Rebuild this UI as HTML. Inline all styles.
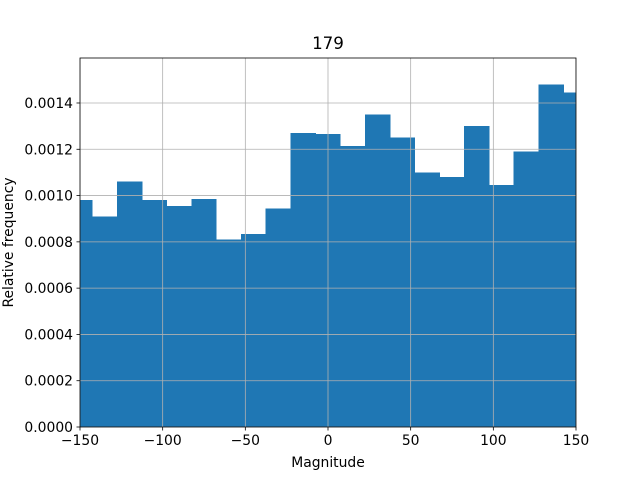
<!DOCTYPE html>
<html><head><meta charset="utf-8"><style>body{margin:0;background:#fff}svg{font-family:"DejaVu Sans","Liberation Sans",sans-serif}</style></head>
<body>
<svg id="c" width="640" height="480" viewBox="0 0 640 480">
<rect width="640" height="480" fill="#fff"/>
<defs><clipPath id="clip"><rect x="80" y="58" width="496" height="369"/></clipPath></defs>
<g id="bars" clip-path="url(#clip)" shape-rendering="crispEdges"></g>
<g id="grid" clip-path="url(#clip)"></g>
<rect x="80" y="58" width="496" height="369" fill="none" stroke="#000" stroke-width="0.8"/>
<g id="xt"></g><g id="yt"></g>
<text x="328" y="49" font-size="16.7" text-anchor="middle">179</text>
<text x="328" y="467" font-size="13.9" text-anchor="middle">Magnitude</text>
<text transform="translate(13,242.5) rotate(-90)" font-size="13.9" text-anchor="middle">Relative frequency</text>
</svg>
<script>
const binStart = -157.7;
const binWidth = 15;
const freqs = [0.00098,0.00091,0.00106,0.00098,0.000955,0.000985,0.00081,0.000835,0.000945,0.00127,0.001265,0.001215,0.00135,0.00125,0.0011,0.00108,0.0013,0.001045,0.00119,0.00148,0.001445];
const xTicks = [-150,-100,-50,0,50,100,150];
const xTickLabels = ["\u2212150","\u2212100","\u221250","0","50","100","150"];
const yTicks = [0,0.0002,0.0004,0.0006,0.0008,0.0010,0.0012,0.0014];
const yTickLabels = ["0.0000","0.0002","0.0004","0.0006","0.0008","0.0010","0.0012","0.0014"];
const xMin=-150,xMax=150,yMin=0,yMax=0.0015944;
const L=80,R=576,T=58,B=427;
const xs=v=>L+(v-xMin)/(xMax-xMin)*(R-L);
const ys=v=>B-(v-yMin)/(yMax-yMin)*(B-T);
const NS="http://www.w3.org/2000/svg";
function mk(tag,attrs,parent){const e=document.createElementNS(NS,tag);for(const k in attrs)e.setAttribute(k,attrs[k]);document.getElementById(parent).appendChild(e);return e;}
freqs.forEach((f,i)=>{
  const x0=xs(binStart+i*binWidth),x1=xs(binStart+(i+1)*binWidth);
  const r=mk('rect',{x:x0,y:ys(f),width:x1-x0+0.6,height:ys(0)-ys(f),fill:'#1f77b4'},'bars');
  
  
});
xTicks.forEach((t,i)=>{
  const x=xs(t);
  const g=mk('line',{x1:x,x2:x,y1:T,y2:B,stroke:'#b0b0b0','stroke-width':0.8},'grid');
  
  
  const tk=mk('line',{x1:x,x2:x,y1:B,y2:B+3.5,stroke:'#000','stroke-width':0.8},'xt');
  
  
  const tx=mk('text',{x:x,y:B+18,'font-size':13.9,'text-anchor':'middle'},'xt');
  tx.textContent=xTickLabels[i];
  
  
});
yTicks.forEach((t,i)=>{
  const y=ys(t);
  const g=mk('line',{x1:L,x2:R,y1:y,y2:y,stroke:'#b0b0b0','stroke-width':0.8},'grid');
  
  
  const tk=mk('line',{x1:L-3.5,x2:L,y1:y,y2:y,stroke:'#000','stroke-width':0.8},'yt');
  
  
  const tx=mk('text',{x:L-7,y:y+5,'font-size':13.9,'text-anchor':'end'},'yt');
  tx.textContent=yTickLabels[i];
  
  
});
</script>
</body></html>
